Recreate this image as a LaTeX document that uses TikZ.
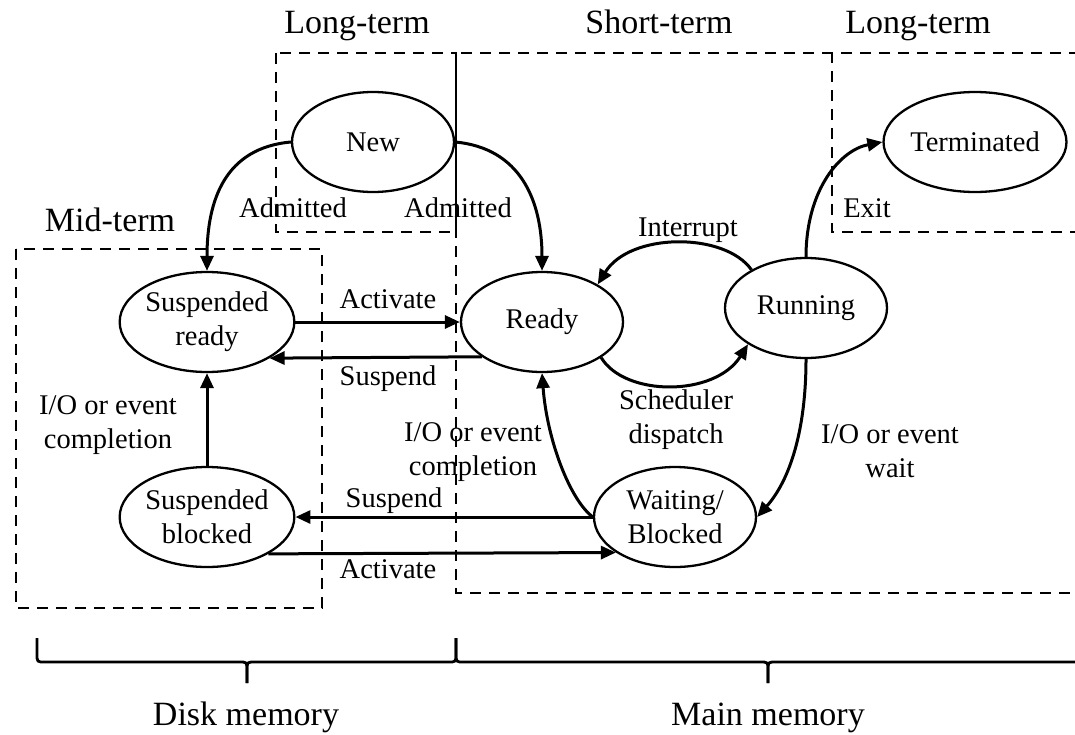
\documentclass[tikz,border=0pt]{standalone}
\usepackage{fontspec}
\setmainfont{Liberation Serif}
\usetikzlibrary{arrows.meta,shapes.geometric}

\newcommand\lblfont{\fontsize{28.5}{34}\selectfont}
\newcommand\ttlfont{\fontsize{34}{40}\selectfont}

\begin{document}
\begin{tikzpicture}[x=1pt,y=-1pt,
  state/.style={draw, ellipse, line width=2.3pt, minimum width=162pt,
    minimum height=100pt, inner sep=0pt, align=center, font=\lblfont},
  lbl/.style={anchor=base, inner sep=0pt, align=center, font=\lblfont},
  ttl/.style={anchor=base, inner sep=0pt, font=\ttlfont},
  arr/.style={line width=3pt, -{Triangle[length=15pt,width=13pt]}},
  region/.style={line width=2.7pt, dash pattern=on 11pt off 8pt},
  brace/.style={line width=2.8pt, line join=round}]

\useasboundingbox (0,0) rectangle (1075,734);
\clip (0,0) rectangle (1075,734);

% scheduler regions
\draw[region] (276,53) rectangle (456,232);
\draw[region] (1080,53) -- (456,53) -- (456,593) -- (1080,593);
\draw[region] (1080,53) -- (832,53) -- (832,232) -- (1080,232);
\draw[region] (16,249) rectangle (322,608);

% region titles
\node[ttl] (lt1) at (357,33) {Long-term};
\node[ttl] (st)  at (659,33) {Short-term};
\node[ttl] (lt2) at (918,33) {Long-term};
\node[ttl] (mt)  at (110,231) {Mid-term};

% process states
\node[state] (new)   at (373,142) {New};
\node[state] (term)  at (975,142) {Terminated};
\node[state] (sr)    at (207,322) {Suspended\\ready};
\node[state] (sb)    at (207,517) {Suspended\\blocked};
\node[state] (ready) at (542,322) {Ready};
\node[state] (run)   at (806,308) {Running};
\node[state] (wb)    at (675,517) {Waiting/\\Blocked};

% transitions
\draw[arr] (new.west) .. controls (225,148) and (207,200) .. (sr.north);
\draw[arr] (new.east) .. controls (520,148) and (542,200) .. (ready.north);
\draw[arr] (sr.east) -- (ready.west);
\draw[arr] (ready.-150) -- (sr.-30);
\draw[arr] (sb.north) -- (sr.south);
\draw[arr] (wb.west) -- (sb.east);
\draw[arr] (sb.-31) -- (wb.-149);
\draw[arr] (wb.west) .. controls (570,500) and (547,440) .. (ready.south);
\draw[arr] (run.south) .. controls (806,430) and (790,480) .. (wb.east);
\draw[arr] (ready.-31) .. controls (625,397) and (715,397) .. (run.-148);
\draw[arr] (run.145) .. controls (725,232) and (630,232) .. (ready.34);
\draw[arr] (run.north) .. controls (806,190) and (840,150) .. (term.west);

% transition labels (multi-line labels sit on the baseline of their last line)
\node[lbl] (adm1)  at (293,217) {Admitted};
\node[lbl] (adm2)  at (458,217) {Admitted};
\node[lbl] (exit)  at (867,217) {Exit};
\node[lbl] (intr)  at (688,236) {Interrupt};
\node[lbl] (act1)  at (388,308) {Activate};
\node[lbl] (sus1)  at (388,385) {Suspend};
\node[lbl] (io1)   at (108,448) {I/O or event\\completion};
\node[lbl] (sched) at (676,443) {Scheduler\\dispatch};
\node[lbl] (io2)   at (473,475) {I/O or event\\completion};
\node[lbl] (io3)   at (890,477) {I/O or event\\wait};
\node[lbl] (sus2)  at (394,507) {Suspend};
\node[lbl] (act2)  at (388,578) {Activate};

% memory braces
\draw[brace] (37,638) -- (37,654) .. controls (37,662) .. (45,662) -- (239,662)
  .. controls (247,662) .. (247,670) -- (247,683);
\draw[brace] (247,683) -- (247,670) .. controls (247,662) .. (255,662) -- (448,662)
  .. controls (456,662) .. (456,654) -- (456,638);
\draw[brace] (456,638) -- (456,654) .. controls (456,662) .. (464,662) -- (760,662)
  .. controls (768,662) .. (768,670) -- (768,683);
\draw[brace] (768,683) -- (768,670) .. controls (768,662) .. (776,662) -- (1080,662);

\node[ttl] (disk) at (246,725) {Disk memory};
\node[ttl] (mainm) at (768,725) {Main memory};
\end{tikzpicture}
\end{document}
